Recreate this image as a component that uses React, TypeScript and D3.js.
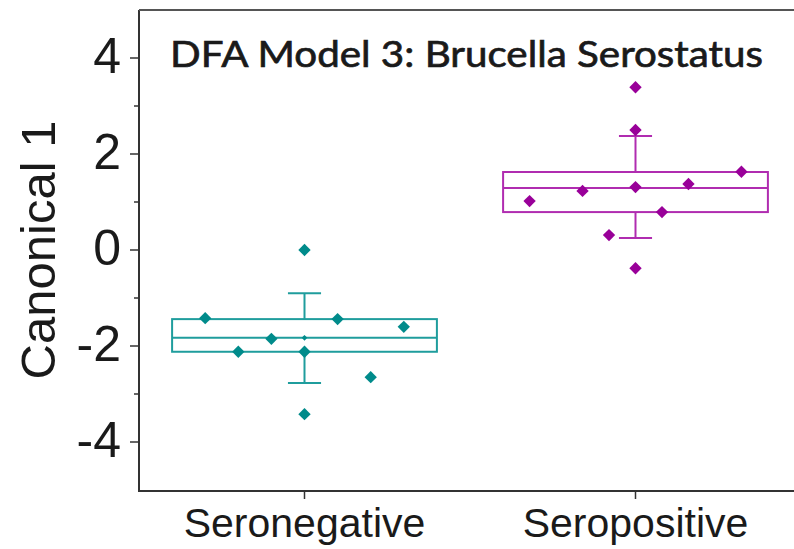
import React from 'react';
import * as d3 from 'd3';

// categories and tick labels
const categories = ['Seronegative', 'Seropositive'];
const yTicks = [-4, -2, 0, 2, 4];
const yMinorTicks = [-3, -1, 1, 3];

// box stats: [whiskerLow, q1, median, q3, whiskerHigh]
const negBox = [-2.77, -2.12, -1.83, -1.44, -0.9];
const posBox = [0.25, 0.79, 1.29, 1.625, 2.375];
const negMean = [-1.83];

// scatter points: values and horizontal jitter (category units)
const negValues = [-1.42, -2.12, -1.85, -2.12, -1.44, -2.65, -1.6, 0, -3.42];
const negJitter = [-0.3, -0.2, -0.1, 0, 0.1, 0.2, 0.3, 0, 0];
const posValues = [3.39, 2.5, 1.63, 1.23, 1.31, 1.375, 1.02, 0.79, 0.31, -0.38];
const posJitter = [0, 0, 0.32, -0.16, 0, 0.16, -0.32, 0.08, -0.08, 0];

const App = () => {
  const width = 794;
  const height = 549;
  const left = 139;
  const top = 10;
  const bottom = 491;

  const x = d3.scaleLinear().domain([0.5, 2.5]).range([left, 801]);
  const y = d3.scaleLinear().domain([-5, 5]).range([490, 10]);

  const diamond = d3.symbol().type(d3.symbolSquare).size(76)();
  const smallDiamond = d3.symbol().type(d3.symbolSquare).size(16)();

  const groups = [
    { pos: 1, box: negBox, values: negValues, jitter: negJitter, line: '#1f9d9d', fill: '#008b8b' },
    { pos: 2, box: posBox, values: posValues, jitter: posJitter, line: '#b02cb0', fill: '#990099' },
  ];

  const boxW = 0.8;
  const capW = 0.1;

  return (
    <svg
      width={width}
      height={height}
      style={{ position: 'absolute', left: 0, top: 0, background: '#fff' }}
    >
      {/* Frame */}
      <line x1={left} x2={left} y1={top} y2={bottom} stroke="#333" strokeWidth={2} />
      <line x1={left} x2={width} y1={top} y2={top} stroke="#555" strokeWidth={2} />
      <line x1={left - 1} x2={width} y1={bottom} y2={bottom} stroke="#333" strokeWidth={2} />

      {/* Y ticks */}
      {yTicks.map(t => (
        <g key={t}>
          <line x1={left - 9} x2={left} y1={y(t)} y2={y(t)} stroke="#333" strokeWidth={1.5} />
          <text
            x={121}
            y={y(t) + 15}
            textAnchor="end"
            fontFamily="'Liberation Sans', Arial, sans-serif"
            fontSize={50}
            fill="#1a1a1a"
          >
            {t}
          </text>
        </g>
      ))}
      {yMinorTicks.map(t => (
        <line key={t} x1={left - 5} x2={left} y1={y(t)} y2={y(t)} stroke="#333" strokeWidth={1.5} />
      ))}

      {/* X ticks */}
      {categories.map((c, i) => (
        <g key={c}>
          <line x1={x(i + 1)} x2={x(i + 1)} y1={bottom} y2={bottom + 8} stroke="#333" strokeWidth={1.5} />
          <text
            x={x(i + 1)}
            y={537}
            textAnchor="middle"
            fontFamily="'Liberation Sans', Arial, sans-serif"
            fontSize={41}
            fill="#1a1a1a"
          >
            {c}
          </text>
        </g>
      ))}

      {/* Y axis title */}
      <text
        transform={`translate(55,250) rotate(-90)`}
        textAnchor="middle"
        fontFamily="'Liberation Sans', Arial, sans-serif"
        fontSize={49}
        fill="#1a1a1a"
      >
        Canonical 1
      </text>

      {/* Title */}
      <text
        x={170}
        y={67}
        fontFamily="Lato, 'Open Sans', sans-serif"
        fontSize={37}
        fill="#1a1a1a"
        stroke="#1a1a1a"
        strokeWidth={0.7}
        textLength={593}
        lengthAdjust="spacingAndGlyphs"
      >
        DFA Model 3: Brucella Serostatus
      </text>

      {/* Boxes */}
      {groups.map(g => {
        const [lo, q1, med, q3, hi] = g.box;
        const cx = x(g.pos);
        return (
          <g key={g.pos} stroke={g.line} strokeWidth={2} fill="none">
            <rect
              x={x(g.pos - boxW / 2)}
              y={y(q3)}
              width={x(g.pos + boxW / 2) - x(g.pos - boxW / 2)}
              height={y(q1) - y(q3)}
            />
            <line x1={x(g.pos - boxW / 2)} x2={x(g.pos + boxW / 2)} y1={y(med)} y2={y(med)} />
            <line x1={cx} x2={cx} y1={y(q3)} y2={y(hi)} />
            <line x1={cx} x2={cx} y1={y(q1)} y2={y(lo)} />
            <line x1={x(g.pos - capW / 2)} x2={x(g.pos + capW / 2)} y1={y(hi)} y2={y(hi)} />
            <line x1={x(g.pos - capW / 2)} x2={x(g.pos + capW / 2)} y1={y(lo)} y2={y(lo)} />
          </g>
        );
      })}

      {/* Mean marker */}
      {negMean.map((m, i) => (
        <path
          key={`mean-${i}`}
          d={smallDiamond ?? ''}
          transform={`translate(${x(1)},${y(m)}) rotate(45)`}
          fill="#008b8b"
        />
      ))}

      {/* Points */}
      {groups.map(g =>
        g.values.map((v, i) => (
          <path
            key={`${g.pos}-${i}`}
            d={diamond ?? ''}
            transform={`translate(${x(g.pos + g.jitter[i])},${y(v)}) rotate(45)`}
            fill={g.fill}
          />
        ))
      )}
    </svg>
  );
};

export default App;
